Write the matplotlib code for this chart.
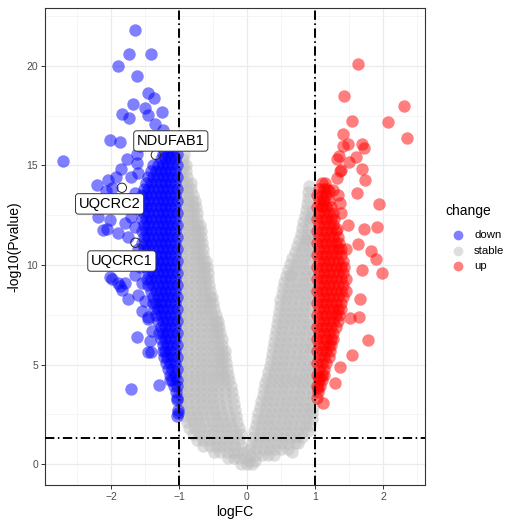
import numpy as np
import matplotlib
matplotlib.use("Agg")
from matplotlib import pyplot as plt
from matplotlib.lines import Line2D

plt.rcParams['font.family'] = ['Liberation Sans', 'DejaVu Sans']

# stable genes: rows of (-log10 p, [logFC, ...])
stable_rows = [
    # left arm
    (0.0, [-0.08, 0.0, 0.07]),
    (0.3, [-0.28, -0.19, -0.11, -0.03]),
    (0.6, [-0.48, -0.39, -0.3, -0.21, -0.13, -0.05]),
    (0.9, [-0.64, -0.55, -0.46, -0.37, -0.28, -0.19, -0.09]),
    (1.2, [-0.74, -0.65, -0.56, -0.47, -0.38, -0.29, -0.2, -0.11]),
    (1.5, [-0.8, -0.7, -0.61, -0.52, -0.43, -0.34, -0.25, -0.16, -0.09]),
    (1.8, [-0.85, -0.76, -0.67, -0.58, -0.49, -0.4, -0.31, -0.22, -0.12]),
    (2.1, [-0.88, -0.79, -0.7, -0.61, -0.52, -0.43, -0.34, -0.25, -0.14]),
    (2.4, [-0.91, -0.82, -0.73, -0.64, -0.55, -0.46, -0.37, -0.27, -0.16]),
    (2.7, [-0.93, -0.84, -0.75, -0.66, -0.57, -0.48, -0.39, -0.29, -0.18]),
    (3.0, [-0.95, -0.86, -0.77, -0.68, -0.59, -0.5, -0.41, -0.31, -0.19]),
    (3.3, [-0.96, -0.87, -0.78, -0.69, -0.6, -0.51, -0.42, -0.32, -0.21]),
    (3.6, [-0.96, -0.87, -0.78, -0.69, -0.6, -0.51, -0.42, -0.33, -0.22]),
    (3.9, [-0.95, -0.86, -0.77, -0.68, -0.59, -0.5, -0.41, -0.32, -0.24]),
    (4.2, [-0.96, -0.87, -0.78, -0.69, -0.6, -0.51, -0.42, -0.34, -0.26]),
    (4.5, [-0.95, -0.86, -0.77, -0.68, -0.59, -0.5, -0.42, -0.35, -0.28]),
    (4.8, [-0.96, -0.87, -0.78, -0.69, -0.6, -0.51, -0.43, -0.36, -0.3]),
    (5.1, [-0.95, -0.86, -0.77, -0.68, -0.59, -0.5, -0.42, -0.36, -0.31]),
    (5.4, [-0.96, -0.87, -0.78, -0.69, -0.6, -0.51, -0.43, -0.37, -0.32]),
    (5.7, [-0.95, -0.86, -0.77, -0.68, -0.59, -0.5, -0.42, -0.36, -0.33]),
    (6.0, [-0.96, -0.87, -0.78, -0.69, -0.6, -0.51, -0.43, -0.36]),
    (6.3, [-0.95, -0.86, -0.77, -0.68, -0.59, -0.5, -0.42, -0.37]),
    (6.6, [-0.96, -0.87, -0.78, -0.69, -0.6, -0.51, -0.44, -0.39]),
    (6.9, [-0.95, -0.86, -0.77, -0.68, -0.59, -0.51, -0.44, -0.41]),
    (7.2, [-0.96, -0.87, -0.78, -0.69, -0.6, -0.52, -0.46, -0.43]),
    (7.5, [-0.95, -0.86, -0.77, -0.68, -0.6, -0.52, -0.46]),
    (7.8, [-0.96, -0.87, -0.78, -0.69, -0.61, -0.54, -0.48]),
    (8.1, [-0.95, -0.86, -0.77, -0.68, -0.6, -0.54, -0.5]),
    (8.4, [-0.96, -0.87, -0.78, -0.69, -0.61, -0.55, -0.51]),
    (8.7, [-0.95, -0.86, -0.77, -0.68, -0.61, -0.55]),
    (9.0, [-0.96, -0.87, -0.78, -0.69, -0.62, -0.56]),
    (9.3, [-0.95, -0.86, -0.77, -0.69, -0.62, -0.57]),
    (9.6, [-0.96, -0.87, -0.78, -0.7, -0.63, -0.58]),
    (9.9, [-0.95, -0.86, -0.77, -0.69, -0.63, -0.59]),
    (10.2, [-0.96, -0.87, -0.78, -0.7, -0.64, -0.6]),
    (10.5, [-0.95, -0.86, -0.77, -0.7, -0.64]),
    (10.8, [-0.96, -0.87, -0.78, -0.71, -0.65]),
    (11.1, [-0.95, -0.86, -0.78, -0.71, -0.66]),
    (11.4, [-0.96, -0.87, -0.79, -0.72, -0.67]),
    (11.7, [-0.95, -0.86, -0.78, -0.72, -0.68]),
    (12.0, [-0.96, -0.87, -0.79, -0.73, -0.69]),
    (12.3, [-0.95, -0.86, -0.79, -0.73]),
    (12.6, [-0.96, -0.87, -0.8, -0.74]),
    (12.9, [-0.95, -0.87, -0.8, -0.75]),
    (13.2, [-0.96, -0.88, -0.81, -0.77]),
    (13.5, [-0.95, -0.87, -0.8]),
    (13.8, [-0.96, -0.88, -0.82]),
    (14.1, [-0.95, -0.88, -0.83]),
    (14.4, [-0.95, -0.88]),
    (14.7, [-0.95, -0.89]),
    (15.0, [-0.94, -0.9]),
    (15.3, [-0.94]),
    (15.6, [-0.93]),
    # right arm
    (0.15, [0.03, 0.12]),
    (0.45, [0.04, 0.13, 0.22, 0.31, 0.4]),
    (0.75, [0.05, 0.14, 0.23, 0.32, 0.41, 0.5, 0.6]),
    (1.05, [0.07, 0.16, 0.25, 0.34, 0.43, 0.52, 0.61, 0.7, 0.75]),
    (1.35, [0.09, 0.18, 0.27, 0.36, 0.45, 0.54, 0.63, 0.72, 0.81]),
    (1.65, [0.11, 0.2, 0.29, 0.38, 0.47, 0.56, 0.65, 0.74, 0.83, 0.9]),
    (1.95, [0.13, 0.22, 0.31, 0.4, 0.49, 0.58, 0.67, 0.76, 0.85, 0.93]),
    (2.25, [0.15, 0.24, 0.33, 0.42, 0.51, 0.6, 0.69, 0.78, 0.87, 0.95]),
    (2.55, [0.17, 0.26, 0.35, 0.44, 0.53, 0.62, 0.71, 0.8, 0.89, 0.96]),
    (2.85, [0.19, 0.28, 0.37, 0.46, 0.55, 0.64, 0.73, 0.82, 0.91, 0.97]),
    (3.15, [0.21, 0.3, 0.39, 0.48, 0.57, 0.66, 0.75, 0.84, 0.93]),
    (3.45, [0.23, 0.32, 0.41, 0.5, 0.59, 0.68, 0.77, 0.86, 0.95]),
    (3.75, [0.25, 0.34, 0.43, 0.52, 0.61, 0.7, 0.79, 0.88, 0.97]),
    (4.05, [0.27, 0.36, 0.45, 0.54, 0.63, 0.72, 0.81, 0.9, 0.97]),
    (4.35, [0.29, 0.38, 0.47, 0.56, 0.65, 0.74, 0.83, 0.92]),
    (4.65, [0.31, 0.4, 0.49, 0.58, 0.67, 0.76, 0.85, 0.94]),
    (4.95, [0.34, 0.43, 0.52, 0.61, 0.7, 0.79, 0.88, 0.97]),
    (5.25, [0.35, 0.44, 0.53, 0.62, 0.71, 0.8, 0.89, 0.97]),
    (5.55, [0.37, 0.46, 0.55, 0.64, 0.73, 0.82, 0.91]),
    (5.85, [0.38, 0.47, 0.56, 0.65, 0.74, 0.83, 0.92, 0.97]),
    (6.15, [0.4, 0.49, 0.58, 0.67, 0.76, 0.85, 0.94]),
    (6.45, [0.41, 0.5, 0.59, 0.68, 0.77, 0.86, 0.95]),
    (6.75, [0.43, 0.52, 0.61, 0.7, 0.79, 0.88, 0.97]),
    (7.05, [0.44, 0.53, 0.62, 0.71, 0.8, 0.89, 0.97]),
    (7.35, [0.45, 0.54, 0.63, 0.72, 0.81, 0.9]),
    (7.65, [0.47, 0.56, 0.65, 0.74, 0.83, 0.92]),
    (7.95, [0.48, 0.57, 0.66, 0.75, 0.84, 0.93]),
    (8.25, [0.49, 0.58, 0.67, 0.76, 0.85, 0.94]),
    (8.55, [0.51, 0.6, 0.69, 0.78, 0.87, 0.96]),
    (8.85, [0.53, 0.62, 0.71, 0.8, 0.89, 0.97]),
    (9.15, [0.55, 0.64, 0.73, 0.82, 0.91]),
    (9.45, [0.58, 0.67, 0.76, 0.85, 0.94]),
    (9.75, [0.6, 0.69, 0.78, 0.87, 0.96]),
    (10.05, [0.63, 0.72, 0.81, 0.9]),
    (10.35, [0.66, 0.75, 0.84, 0.93]),
    (10.65, [0.7, 0.79, 0.88, 0.96]),
    (10.95, [0.73, 0.82, 0.91]),
    (11.25, [0.76, 0.85, 0.94]),
    (11.55, [0.79, 0.88, 0.96]),
    (11.85, [0.81, 0.9]),
    (12.15, [0.83, 0.92]),
    (12.45, [0.85, 0.94]),
    (12.75, [0.87, 0.95]),
    (13.05, [0.89]),
    (13.35, [0.9]),
    (13.65, [0.9]),
    (13.95, [0.91]),
]
stable_extra = [(0.66, 0.62), (0.63, 9.5), (0.94, 12.35), (0.88, 11.26)]

down_rows = [
    (2.4, [-1.03]),
    (2.7, [-1.02]),
    (3.3, [-1.03]),
    (3.6, [-1.04]),
    (3.9, [-1.03, -1.08]),
    (4.2, [-1.03, -1.1]),
    (4.5, [-1.06, -1.13]),
    (4.8, [-1.03, -1.1, -1.16]),
    (5.1, [-1.06, -1.13, -1.19]),
    (5.4, [-1.03, -1.1, -1.17, -1.22]),
    (5.7, [-1.06, -1.13, -1.2, -1.24]),
    (6.0, [-1.03, -1.1, -1.17, -1.24]),
    (6.3, [-1.06, -1.13, -1.2, -1.27]),
    (6.6, [-1.03, -1.1, -1.17, -1.24, -1.29]),
    (6.9, [-1.06, -1.13, -1.2, -1.27]),
    (7.2, [-1.03, -1.1, -1.17, -1.24, -1.31]),
    (7.5, [-1.06, -1.13, -1.2, -1.27, -1.34]),
    (7.8, [-1.03, -1.1, -1.17, -1.24, -1.31, -1.36]),
    (8.1, [-1.06, -1.13, -1.2, -1.27, -1.34, -1.38]),
    (8.4, [-1.03, -1.1, -1.17, -1.24, -1.31, -1.38]),
    (8.7, [-1.06, -1.13, -1.2, -1.27, -1.34, -1.41]),
    (9.0, [-1.03, -1.1, -1.17, -1.24, -1.31, -1.38, -1.45]),
    (9.3, [-1.06, -1.13, -1.2, -1.27, -1.34, -1.41, -1.47]),
    (9.6, [-1.03, -1.1, -1.17, -1.24, -1.31, -1.38, -1.45]),
    (9.9, [-1.06, -1.13, -1.2, -1.27, -1.34, -1.41, -1.48]),
    (10.2, [-1.03, -1.1, -1.17, -1.24, -1.31, -1.38, -1.45, -1.52]),
    (10.5, [-1.06, -1.13, -1.2, -1.27, -1.34, -1.41, -1.48]),
    (10.8, [-1.03, -1.1, -1.17, -1.24, -1.31, -1.38, -1.45, -1.52]),
    (11.1, [-1.06, -1.13, -1.2, -1.27, -1.34, -1.41, -1.48, -1.55]),
    (11.4, [-1.03, -1.1, -1.17, -1.24, -1.31, -1.38, -1.45, -1.52]),
    (11.7, [-1.06, -1.13, -1.2, -1.27, -1.34, -1.41, -1.48, -1.55]),
    (12.0, [-1.03, -1.1, -1.17, -1.24, -1.31, -1.38, -1.45, -1.52]),
    (12.3, [-1.06, -1.13, -1.2, -1.27, -1.34, -1.41, -1.48, -1.55]),
    (12.6, [-1.03, -1.1, -1.17, -1.24, -1.31, -1.38, -1.45, -1.52]),
    (12.9, [-1.06, -1.13, -1.2, -1.27, -1.34, -1.41, -1.48, -1.55]),
    (13.2, [-1.03, -1.1, -1.17, -1.24, -1.31, -1.38, -1.45, -1.52]),
    (13.5, [-1.06, -1.13, -1.2, -1.27, -1.34, -1.41, -1.48, -1.55]),
    (13.8, [-1.03, -1.1, -1.17, -1.24, -1.31, -1.38, -1.45, -1.52]),
    (14.1, [-1.06, -1.13, -1.2, -1.27, -1.34, -1.41, -1.48]),
    (14.4, [-1.03, -1.1, -1.17, -1.24, -1.31, -1.38, -1.45]),
    (14.7, [-1.06, -1.13, -1.2, -1.27, -1.34, -1.41]),
    (15.0, [-1.03, -1.1, -1.17, -1.24, -1.31, -1.38]),
    (15.3, [-1.06, -1.13, -1.2, -1.27]),
    (15.6, [-1.03, -1.1, -1.17, -1.24]),
    (15.9, [-1.08, -1.15, -1.2]),
    (16.2, [-1.12, -1.17]),
]
down_extra = [
    (-1.65, 21.8), (-1.73, 20.6), (-1.41, 20.6), (-1.89, 20.0), (-1.62, 19.5),
    (-1.46, 18.66), (-1.37, 18.4), (-1.67, 18.07), (-1.5, 17.9), (-1.25, 17.7),
    (-1.84, 17.6), (-1.73, 17.4), (-1.45, 17.55), (-1.35, 17.1), (-1.24, 16.8),
    (-2.01, 16.3), (-1.87, 16.2), (-2.71, 15.2), (-1.77, 15.3), (-1.62, 15.1),
    (-2.21, 14.0), (-2.04, 14.27), (-1.98, 13.85), (-2.19, 12.4), (-2.06, 11.8),
    (-1.89, 11.6), (-2.07, 13.7), (-2.01, 12.26), (-2.11, 11.76), (-2.01, 9.4),
    (-1.89, 9.08), (-1.84, 8.74), (-1.99, 9.28), (-1.87, 8.94), (-1.8, 9.1),
    (-1.75, 8.28), (-1.62, 6.4), (-1.45, 7.3), (-1.4, 6.7), (-1.43, 6.2),
    (-1.7, 3.75), (-1.3, 3.97), (-1.45, 5.65), (-1.41, 5.65), (-1.13, 4.22),
    (-1.03, 3.2), (-1.02, 2.58), (-1.45, 7.4),
    (-1.6, 14.6), (-1.7, 14.4), (-1.65, 13.6), (-1.75, 13.3), (-1.6, 12.8),
    (-1.7, 12.4), (-1.8, 12.1), (-1.65, 11.9), (-1.75, 11.4), (-1.6, 10.8),
    (-1.7, 10.4), (-1.58, 9.9), (-1.65, 9.5), (-1.55, 9.1), (-1.6, 8.5),
    (-1.5, 8.2), (-1.55, 7.7), (-1.85, 14.8), (-1.9, 13.3), (-1.95, 12.9),
    (-1.58, 16.0), (-1.45, 16.5), (-1.35, 16.3), (-1.62, 15.6), (-1.92, 14.4),
]

up_rows = [
    (3.3, [1.03]),
    (3.6, [1.04]),
    (3.9, [1.03, 1.08]),
    (4.2, [1.06, 1.1]),
    (4.5, [1.03, 1.1, 1.13]),
    (4.8, [1.06, 1.13]),
    (5.1, [1.03, 1.1, 1.17]),
    (5.4, [1.06, 1.13, 1.2]),
    (5.7, [1.03, 1.1, 1.17, 1.22]),
    (6.0, [1.06, 1.13, 1.2, 1.24]),
    (6.3, [1.03, 1.1, 1.17, 1.24, 1.27]),
    (6.6, [1.06, 1.13, 1.2, 1.27]),
    (6.9, [1.03, 1.1, 1.17, 1.24, 1.31]),
    (7.2, [1.06, 1.13, 1.2, 1.27, 1.34]),
    (7.5, [1.03, 1.1, 1.17, 1.24, 1.31, 1.36]),
    (7.8, [1.06, 1.13, 1.2, 1.27, 1.34, 1.38]),
    (8.1, [1.03, 1.1, 1.17, 1.24, 1.31, 1.38]),
    (8.4, [1.06, 1.13, 1.2, 1.27, 1.34, 1.41]),
    (8.7, [1.03, 1.1, 1.17, 1.24, 1.31, 1.38, 1.45]),
    (9.0, [1.06, 1.13, 1.2, 1.27, 1.34, 1.41]),
    (9.3, [1.03, 1.1, 1.17, 1.24, 1.31, 1.38, 1.45]),
    (9.6, [1.06, 1.13, 1.2, 1.27, 1.34, 1.41]),
    (9.9, [1.03, 1.1, 1.17, 1.24, 1.31, 1.38, 1.43]),
    (10.2, [1.06, 1.13, 1.2, 1.27, 1.34, 1.41]),
    (10.5, [1.03, 1.1, 1.17, 1.24, 1.31, 1.38]),
    (10.8, [1.06, 1.13, 1.2, 1.27, 1.34, 1.38]),
    (11.1, [1.03, 1.1, 1.17, 1.24, 1.31, 1.36]),
    (11.4, [1.06, 1.13, 1.2, 1.27, 1.34]),
    (11.7, [1.03, 1.1, 1.17, 1.24, 1.31]),
    (12.0, [1.06, 1.13, 1.2, 1.27]),
    (12.3, [1.03, 1.1, 1.17, 1.24, 1.28]),
    (12.6, [1.06, 1.13, 1.2, 1.27]),
    (12.9, [1.03, 1.1, 1.17, 1.24]),
    (13.2, [1.06, 1.13, 1.2]),
    (13.5, [1.03, 1.1, 1.17]),
    (13.8, [1.06, 1.13, 1.18]),
    (14.1, [1.1, 1.15]),
]
up_extra = [
    (1.63, 20.1), (1.43, 18.5), (2.31, 18.0), (1.54, 17.25), (2.08, 17.2),
    (2.36, 16.4), (1.41, 16.6), (1.42, 16.0), (1.48, 16.07), (1.70, 16.1),
    (1.72, 15.86), (1.35, 15.5), (1.32, 15.3), (1.60, 15.45), (1.5, 15.15),
    (1.37, 14.7), (1.70, 14.8), (1.73, 14.27), (1.32, 14.36), (1.62, 13.6),
    (1.95, 13.07), (1.72, 11.8), (1.92, 11.9), (1.83, 10.7), (1.9, 10.3),
    (1.98, 9.6), (1.66, 8.28), (1.65, 7.4), (1.51, 7.34), (1.78, 6.23),
    (1.54, 5.48), (1.37, 4.9), (1.29, 4.05), (1.12, 3.08), (1.05, 3.8),
    (1.06, 4.4), (1.46, 10.8), (1.64, 11.05), (1.69, 9.75),
    (1.27, 13.77), (1.2, 13.7), (1.34, 13.5), (1.37, 13.1), (1.39, 12.6),
    (1.12, 13.27), (1.1, 12.95), (1.32, 11.8), (1.49, 12.0), (1.39, 14.77),
]

label_genes = ['NDUFAB1', 'UQCRC2', 'UQCRC1']
label_fc = [-1.34, -1.84, -1.64]
label_p = [15.53, 13.88, 11.12]

change_levels = ['down', 'stable', 'up']
change_colors = ['#0000FF', '#BEBEBE', '#FF0000']


def flatten(rows, extra):
    xs, ys = [], []
    for y, row in rows:
        xs += row
        ys += [y] * len(row)
    for x, y in extra:
        xs.append(x)
        ys.append(y)
    return np.array(xs), np.array(ys)


stable_x, stable_y = flatten(stable_rows, stable_extra)
down_x, down_y = flatten(down_rows, down_extra)
up_x, up_y = flatten(up_rows, up_extra)

fig = plt.figure(figsize=(5.06, 5.24), dpi=100)
ax = fig.add_axes([0.089, 0.0744, 0.751, 0.910])

pt = 80
a = 0.5
ax.scatter(stable_x, stable_y, s=pt, c=change_colors[1], alpha=a, linewidths=0, zorder=2)
ax.scatter(down_x, down_y, s=pt, c=change_colors[0], alpha=a, linewidths=0, zorder=3)
ax.scatter(up_x, up_y, s=pt, c=change_colors[2], alpha=a, linewidths=0, zorder=3)
ax.scatter(label_fc, label_p, s=45, facecolors='none', edgecolors='#222222',
           linewidths=0.7, zorder=4)

# cut-off lines
dd = (4.8, 1.8, 0.8, 1.8)
ax.axvline(-1, color='black', lw=1.4, dashes=dd, zorder=5)
ax.axvline(1, color='black', lw=1.4, dashes=dd, zorder=5)
ax.axhline(-np.log10(0.05), color='black', lw=1.4, dashes=dd, zorder=5)

# gene labels
offsets = [(0.22, 0.7), (-0.18, -0.81), (-0.2, -0.92)]
for g, x, y, (dx, dy) in zip(label_genes, label_fc, label_p, offsets):
    ax.text(x + dx, y + dy, g, fontsize=10.5, ha='center', va='center', zorder=6,
            bbox=dict(boxstyle='round,pad=0.22,rounding_size=0.2', fc='white',
                      ec='#333333', lw=0.7))

ax.set_xlim(-2.97, 2.62)
ax.set_ylim(-1.05, 22.9)
ax.set_xticks([-2, -1, 0, 1, 2])
ax.set_yticks([0, 5, 10, 15, 20])
ax.set_xticks([-2.5, -1.5, -0.5, 0.5, 1.5, 2.5], minor=True)
ax.set_yticks([2.5, 7.5, 12.5, 17.5, 22.5], minor=True)
ax.grid(which='major', color='#EBEBEB', lw=0.9, zorder=0)
ax.grid(which='minor', color='#F2F2F2', lw=0.5, zorder=0)
ax.set_axisbelow(True)
ax.tick_params(which='major', length=3, width=0.7, color='#333333',
               labelsize=7.5, labelcolor='#4D4D4D', pad=2)
ax.tick_params(which='minor', length=0)
for sp in ax.spines.values():
    sp.set_color('#333333')
    sp.set_linewidth(0.8)

ax.set_xlabel('logFC', fontsize=10, labelpad=2)
ax.set_ylabel('-log10(Pvalue)', fontsize=10, labelpad=4)

# legend, laid out by hand to match ggplot spacing
fig.text(0.881, 0.597, 'change', fontsize=10, ha='left', va='center')
for i, (lev, col) in enumerate(zip(change_levels, change_colors)):
    yy = 0.5515 - i * 0.0297
    fig.add_artist(Line2D([0.905], [yy], ls='none', marker='o', ms=7, mec='none',
                          mfc=col, alpha=a, transform=fig.transFigure))
    fig.text(0.937, yy, lev, fontsize=8.2, ha='left', va='center')

fig.savefig('out.png', dpi=100)
